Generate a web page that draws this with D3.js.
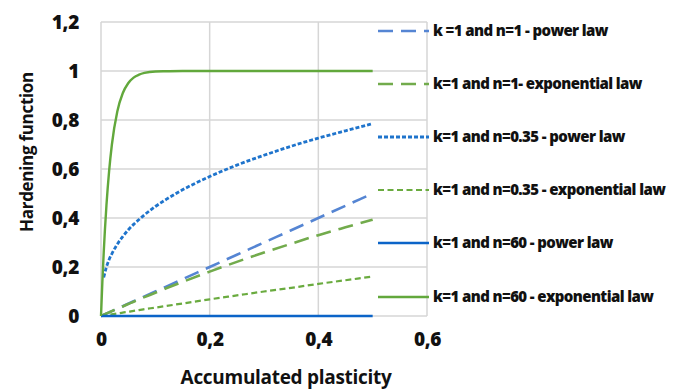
<!DOCTYPE html>
<html>
<head>
<meta charset="utf-8">
<script src="https://cdn.jsdelivr.net/npm/d3@7"></script>
<style>
  body { margin: 0; background: #fff; }
  text { font-family: "Open Sans", "Liberation Sans", sans-serif; fill: #111; }
</style>
</head>
<body>
<div id="chart"></div>
<script>
// accumulated plasticity samples
const xs = [0, 0.0025, 0.005, 0.01, 0.015, 0.02, 0.03, 0.04, 0.05, 0.06, 0.07, 0.08, 0.1, 0.12, 0.15, 0.2, 0.25, 0.3, 0.35, 0.4, 0.45, 0.5];

// hardening function values
const powerN1 = [0, 0.003, 0.005, 0.01, 0.015, 0.02, 0.03, 0.04, 0.05, 0.06, 0.07, 0.08, 0.1, 0.12, 0.15, 0.2, 0.25, 0.3, 0.35, 0.4, 0.45, 0.5];
const expN1 = [0, 0.002, 0.005, 0.01, 0.015, 0.02, 0.03, 0.039, 0.049, 0.058, 0.068, 0.077, 0.095, 0.113, 0.139, 0.181, 0.221, 0.259, 0.295, 0.33, 0.362, 0.393];
const powerN035 = [null, null, 0.157, 0.2, 0.231, 0.254, 0.293, 0.324, 0.351, 0.374, 0.394, 0.413, 0.447, 0.476, 0.515, 0.569, 0.616, 0.656, 0.693, 0.726, 0.756, 0.785];
const expN035 = [0, 0.001, 0.002, 0.004, 0.005, 0.007, 0.01, 0.014, 0.017, 0.021, 0.024, 0.028, 0.034, 0.041, 0.051, 0.068, 0.084, 0.1, 0.115, 0.131, 0.146, 0.161];
const powerN60 = [0, 0, 0, 0, 0, 0, 0, 0, 0, 0, 0, 0, 0, 0, 0, 0, 0, 0, 0, 0, 0, 0];
const expN60 = [0, 0.139, 0.259, 0.451, 0.593, 0.699, 0.835, 0.909, 0.95, 0.973, 0.985, 0.992, 0.998, 0.999, 1, 1, 1, 1, 1, 1, 1, 1];

const xTicks = [0, 0.2, 0.4, 0.6];
const yTicks = [0, 0.2, 0.4, 0.6, 0.8, 1, 1.2];

const seriesNames = [
  "k =1 and n=1 - power law",
  "k=1 and n=1- exponential law",
  "k=1 and n=0.35 - power law",
  "k=1 and n=0.35 - exponential law",
  "k=1 and n=60 - power law",
  "k=1 and n=60 - exponential law"
];
const seriesValues = [powerN1, expN1, powerN035, expN035, powerN60, expN60];

const styles = [
  { color: "#5585d3", width: 2.6, dash: "15,8" },
  { color: "#72ab4c", width: 2.6, dash: "15,8" },
  { color: "#1f74cc", width: 2.8, dash: "4,2" },
  { color: "#6aab3f", width: 2.2, dash: "6,3.5" },
  { color: "#0b64c8", width: 2.6, dash: null },
  { color: "#62a83c", width: 2.4, dash: null }
];

const W = 682, H = 392;
const margin = { top: 22, left: 101 };
const width = 427 - margin.left;
const height = 316 - margin.top;

const svg = d3.select("#chart").append("svg")
  .attr("width", W)
  .attr("height", H);

const g = svg.append("g")
  .attr("transform", `translate(${margin.left}, ${margin.top})`);

const x = d3.scaleLinear().domain([0, 0.6]).range([0, width]);
const y = d3.scaleLinear().domain([0, 1.2]).range([height, 0]);

const fmt = d => d3.format("~g")(d).replace(".", ",");

// grid
g.append("g").selectAll("line").data(yTicks).join("line")
  .attr("x1", 0).attr("x2", width)
  .attr("y1", d => y(d)).attr("y2", d => y(d))
  .attr("stroke", "#d6d6d6").attr("stroke-width", 1.5);
g.append("g").selectAll("line").data(xTicks).join("line")
  .attr("x1", d => x(d)).attr("x2", d => x(d))
  .attr("y1", 0).attr("y2", height)
  .attr("stroke", "#d6d6d6").attr("stroke-width", 1.5);

// axes (labels only)
const xAxis = g.append("g")
  .attr("transform", `translate(0, ${height})`)
  .call(d3.axisBottom(x).tickValues(xTicks).tickFormat(fmt).tickSize(0).tickPadding(17));
const yAxis = g.append("g")
  .call(d3.axisLeft(y).tickValues(yTicks).tickFormat(fmt).tickSize(0).tickPadding(22));
[xAxis, yAxis].forEach(a => {
  a.select(".domain").remove();
  a.selectAll("text")
    .style("font-family", "'Open Sans', sans-serif")
    .style("font-size", "19px")
    .style("font-weight", "800")
    .style("letter-spacing", "-0.3px")
    .attr("fill", "#111");
});

// series
const line = d3.line()
  .defined(d => d[1] != null)
  .curve(d3.curveMonotoneX)
  .x(d => x(d[0]))
  .y(d => y(d[1]));

seriesValues.forEach((vals, i) => {
  const pts = xs.map((v, j) => [v, vals[j]]);
  const s = styles[i];
  g.append("path")
    .datum(pts)
    .attr("fill", "none")
    .attr("stroke", s.color)
    .attr("stroke-width", s.width)
    .attr("stroke-dasharray", s.dash)
    .attr("stroke-linejoin", "round")
    .attr("d", line);
});

// legend
const legend = svg.append("g");
const legY = [31, 84, 137, 190, 243, 297];
seriesNames.forEach((name, i) => {
  const s = styles[i];
  const row = legend.append("g").attr("transform", `translate(0, ${legY[i]})`);
  row.append("line")
    .attr("x1", 378).attr("x2", 429)
    .attr("stroke", s.color)
    .attr("stroke-width", s.width)
    .attr("stroke-dasharray", s.dash);
  row.append("text")
    .attr("x", 433).attr("y", 0)
    .attr("dy", "0.35em")
    .style("font-size", "15px")
    .style("font-weight", "800")
    .style("letter-spacing", "-0.6px")
    .text(name);
});

// axis titles
svg.append("text")
  .attr("x", 286).attr("y", 384)
  .attr("text-anchor", "middle")
  .style("font-size", "19px")
  .style("font-weight", "700")
  .style("letter-spacing", "-0.3px")
  .text("Accumulated plasticity");

svg.append("text")
  .attr("transform", "translate(33, 152) rotate(-90)")
  .attr("text-anchor", "middle")
  .style("font-size", "17px")
  .style("font-weight", "700")
  .style("letter-spacing", "-0.3px")
  .text("Hardening function");
</script>
</body>
</html>
